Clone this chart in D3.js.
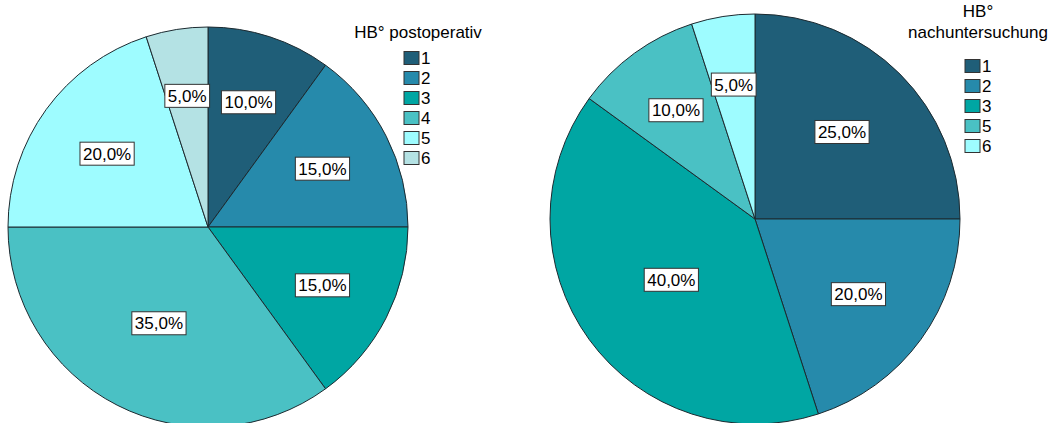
<!DOCTYPE html>
<html>
<head>
<meta charset="utf-8">
<script src="https://cdn.jsdelivr.net/npm/d3@7/dist/d3.min.js"></script>
<style>
  html, body { margin: 0; padding: 0; background: #fff; }
  svg { display: block; }
  text { font-family: Arial, "Liberation Sans", sans-serif; }
</style>
</head>
<body>
<svg id="chart" width="1057" height="423"></svg>
<script>
// Hüftbeugung grade distribution, postoperative vs. follow-up
const postCategories = ["1", "2", "3", "4", "5", "6"];
const postValues = [10, 15, 15, 35, 20, 5];

const followCategories = ["1", "2", "3", "5", "6"];
const followValues = [25, 20, 40, 10, 5];

const palette = ["#1f5e78", "#268aab", "#00a6a3", "#4ac1c4", "#9efcff", "#b4e2e4"];

const svg = d3.select("#chart");
svg.append("rect").attr("width", 1057).attr("height", 423).attr("fill", "#fff");

const fmt = v => d3.format(".1f")(v).replace(".", ",") + "%";

function drawPie(cfg) {
  const data = cfg.categories.map((c, i) => ({ cat: c, value: cfg.values[i], color: palette[i] }));
  const pie = d3.pie().value(d => d.value).sort(null);
  const arcs = pie(data);
  const arc = d3.arc().innerRadius(0).outerRadius(cfg.r);
  const g = svg.append("g").attr("transform", `translate(${cfg.cx},${cfg.cy})`);

  g.selectAll("path.slice").data(arcs).join("path")
    .attr("class", "slice")
    .attr("d", arc)
    .attr("fill", d => d.data.color)
    .attr("stroke", "#1c2a30")
    .attr("stroke-width", 1);

  // labels sit at each sector's centre of mass
  const labels = g.selectAll("g.lbl").data(arcs).join("g").attr("class", "lbl")
    .attr("transform", d => {
      const theta = d.endAngle - d.startAngle;
      const mid = (d.startAngle + d.endAngle) / 2;
      const dist = (4 * cfg.r * Math.sin(theta / 2)) / (3 * theta);
      return `translate(${dist * Math.sin(mid)},${-dist * Math.cos(mid)})`;
    });
  labels.each(function (d) {
    const sel = d3.select(this);
    const t = sel.append("text")
      .attr("text-anchor", "middle")
      .attr("dy", "0.36em")
      .attr("font-size", 17)
      .attr("fill", "#000")
      .text(fmt(d.data.value));
    const bb = t.node().getBBox();
    sel.insert("rect", "text")
      .attr("x", bb.x - 3)
      .attr("y", -11.5)
      .attr("width", bb.width + 6)
      .attr("height", 23)
      .attr("fill", "#fff")
      .attr("stroke", "#333")
      .attr("stroke-width", 1);
  });

  // legend
  const lg = svg.append("g").attr("transform", `translate(${cfg.legendX},0)`);
  cfg.title.forEach((line, i) => {
    lg.append("text")
      .attr("x", cfg.titleCx)
      .attr("y", cfg.titleY + i * 21)
      .attr("text-anchor", "middle")
      .attr("font-size", 17)
      .attr("fill", "#000")
      .text(line);
  });
  const items = lg.selectAll("g.item").data(data).join("g").attr("class", "item")
    .attr("transform", (d, i) => `translate(0,${cfg.legendY + i * 20})`);
  items.append("rect")
    .attr("x", 0).attr("y", -6.5)
    .attr("width", 15).attr("height", 13)
    .attr("fill", d => d.color)
    .attr("stroke", "#333")
    .attr("stroke-width", 1);
  items.append("text")
    .attr("x", 17)
    .attr("y", 0)
    .attr("dy", "0.36em")
    .attr("font-size", 17)
    .attr("fill", "#000")
    .text(d => d.cat);
}

drawPie({
  categories: postCategories, values: postValues,
  cx: 208, cy: 227, r: 200,
  title: ["HB° postoperativ"], legendX: 404, titleCx: 14, titleY: 38, legendY: 58
});

drawPie({
  categories: followCategories, values: followValues,
  cx: 755, cy: 219, r: 205,
  title: ["HB°", "nachuntersuchung"], legendX: 965, titleCx: 13, titleY: 17, legendY: 66
});
</script>
</body>
</html>
